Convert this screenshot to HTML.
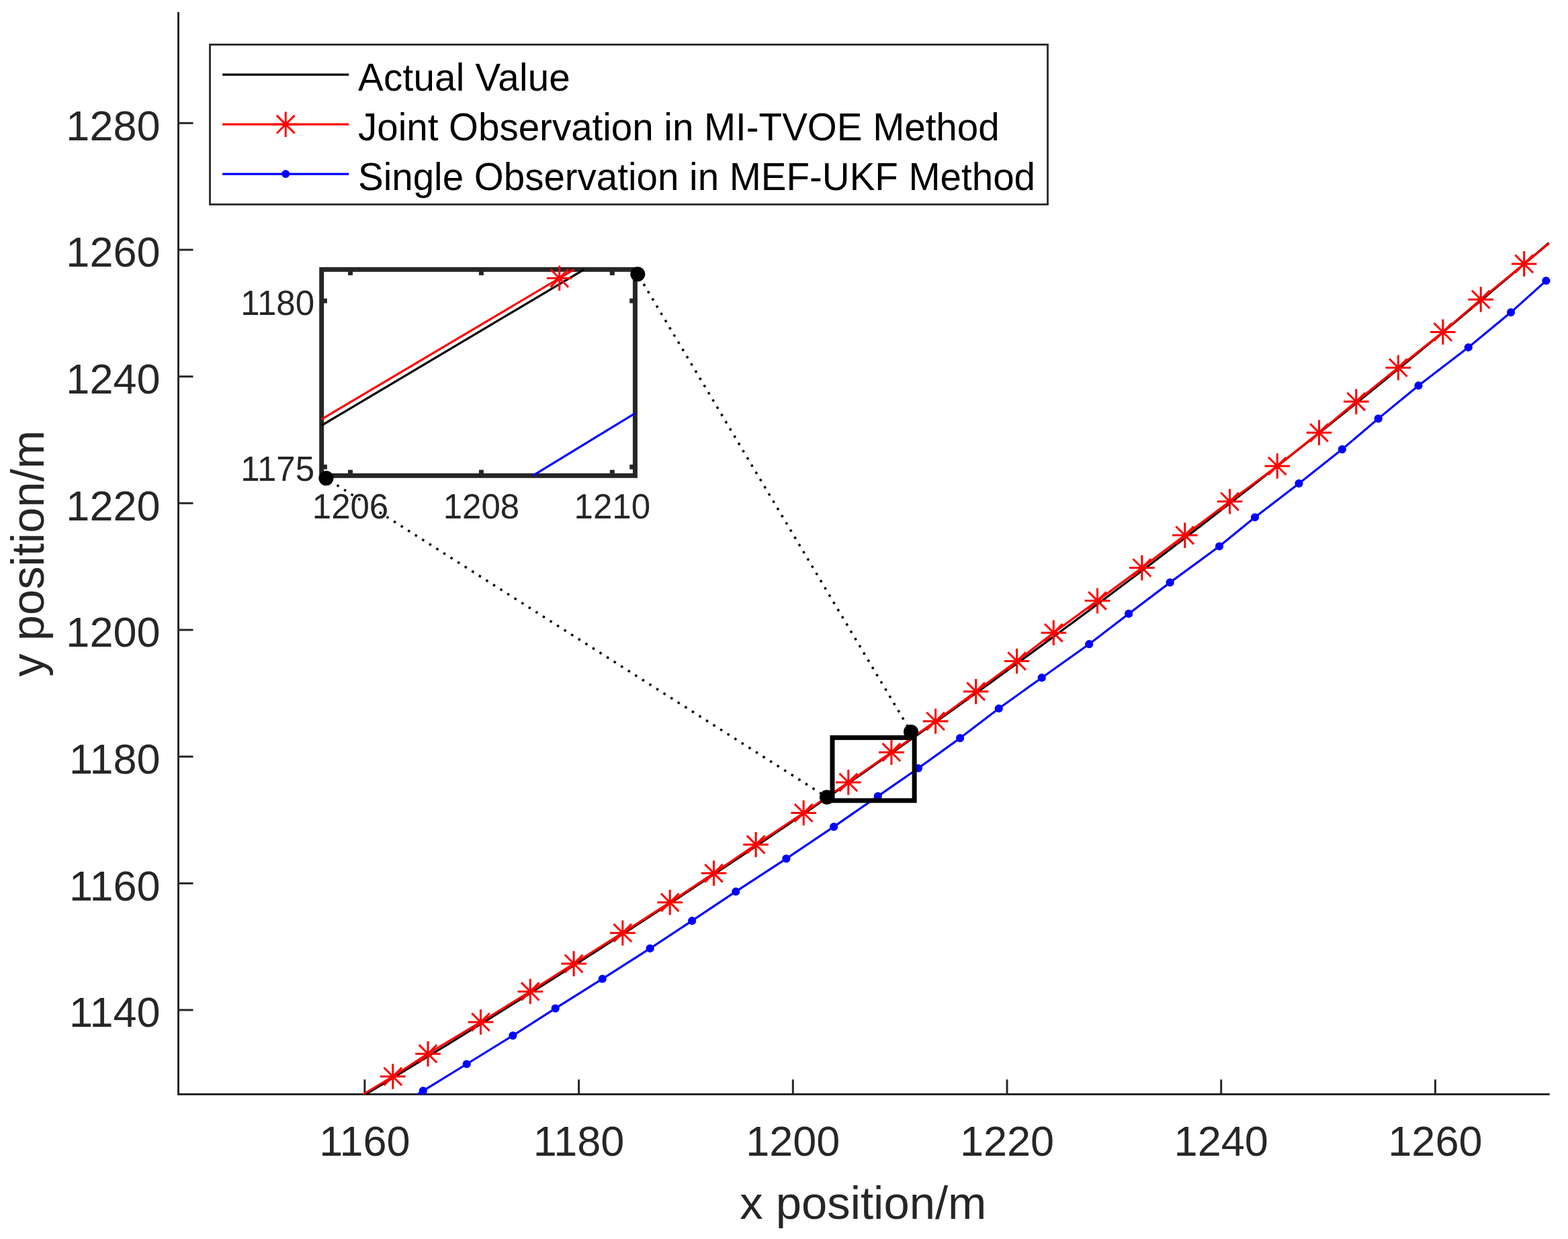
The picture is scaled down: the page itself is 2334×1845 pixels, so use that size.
<!DOCTYPE html><html><head><meta charset="utf-8"><title>plot</title><style>html,body{margin:0;padding:0;background:#fff;}svg{display:block;}text{font-family:"Liberation Sans",Arial,Helvetica,sans-serif;}</style></head><body>
<svg width="2334" height="1845" viewBox="0 0 2334 1845">
<rect width="2334" height="1845" fill="#fff"/>
<defs><clipPath id="cm"><rect x="264.0" y="16.5" width="2044.2" height="1614.5"/></clipPath>
<clipPath id="ci"><rect x="477.7" y="400.3" width="468.7" height="309.0"/></clipPath></defs>
<g stroke="#262626" stroke-width="3" fill="none">
<path d="M265.5 18.0V1631.0"/>
<path d="M264.0 1629.5H2306.7"/>
<path d="M265.5 1504.0H287.5"/>
<path d="M265.5 1315.4H287.5"/>
<path d="M265.5 1126.7H287.5"/>
<path d="M265.5 938.0H287.5"/>
<path d="M265.5 749.3H287.5"/>
<path d="M265.5 560.7H287.5"/>
<path d="M265.5 372.0H287.5"/>
<path d="M265.5 183.3H287.5"/>
<path d="M542.9 1629.5V1607.5"/>
<path d="M861.6 1629.5V1607.5"/>
<path d="M1180.3 1629.5V1607.5"/>
<path d="M1499.0 1629.5V1607.5"/>
<path d="M1817.7 1629.5V1607.5"/>
<path d="M2136.4 1629.5V1607.5"/>
</g>
<g fill="none" stroke-linejoin="round">
<polyline points="544.3,1629.5 549.9,1626.1 569.9,1614.1 589.8,1602.0 609.8,1589.9 629.7,1577.7 649.7,1565.5 669.6,1553.3 689.6,1541.0 709.5,1528.7 729.5,1516.3 749.4,1503.8 769.4,1491.3 789.3,1478.8 809.3,1466.2 829.2,1453.6 849.2,1440.9 869.1,1428.1 889.1,1415.4 909.0,1402.5 929.0,1389.6 948.9,1376.7 968.9,1363.7 988.8,1350.7 1008.8,1337.6 1028.7,1324.4 1048.7,1311.2 1068.6,1298.0 1088.6,1284.7 1108.5,1271.3 1128.5,1257.9 1148.4,1244.4 1168.4,1230.9 1188.3,1217.3 1208.3,1203.7 1228.2,1190.0 1248.2,1176.3 1268.1,1162.5 1288.1,1148.6 1308.0,1134.7 1328.0,1120.8 1347.9,1106.8 1367.9,1092.7 1387.8,1078.5 1407.8,1064.4 1427.7,1050.1 1447.7,1035.8 1467.6,1021.4 1487.6,1007.0 1507.5,992.5 1527.5,978.0 1547.4,963.4 1567.4,948.7 1587.3,934.0 1607.3,919.2 1627.2,904.4 1647.2,889.5 1667.1,874.5 1687.1,859.5 1707.0,844.4 1727.0,829.2 1746.9,814.0 1766.9,798.8 1786.8,783.4 1806.8,768.0 1826.7,752.6 1846.7,737.0 1866.6,721.4 1886.6,705.8 1906.5,690.1 1926.5,674.3 1946.4,658.4 1966.4,642.5 1986.3,626.5 2006.3,610.5 2026.2,594.4 2046.2,578.2 2066.1,562.0 2086.1,545.7 2106.0,529.3 2126.0,512.8 2145.9,496.3 2165.9,479.7 2185.8,463.1 2205.8,446.4 2225.7,429.6 2245.7,412.7 2265.6,395.8 2285.6,378.8 2305.5,361.7" stroke="#000" stroke-width="3.2"/>
<polyline points="540.7,1629.5 584.8,1603.0 637.0,1569.2 715.5,1522.0 789.3,1476.4 854.1,1435.0 926.8,1389.2 997.2,1343.8 1062.5,1300.3 1125.1,1257.7 1196.2,1210.5 1262.8,1165.0 1326.9,1120.2 1392.6,1074.0 1452.7,1029.7 1513.6,984.5 1568.3,942.3 1633.5,894.6 1699.8,845.5 1763.7,797.1 1830.5,746.8 1901.2,694.0 1963.5,644.3 2018.7,598.1 2081.3,547.5 2147.8,494.4 2204.2,445.9 2268.7,392.9 2306.0,362.3" stroke="#ff0000" stroke-width="3.2"/>
<polyline points="621.3,1629.5 629.8,1624.3 694.7,1584.5 763.4,1542.1 826.7,1501.6 896.7,1457.7 967.6,1412.3 1030.1,1371.2 1095.3,1327.7 1170.4,1278.6 1241.1,1231.2 1306.8,1185.6 1366.9,1144.0 1429.1,1099.1 1486.8,1055.0 1550.7,1009.2 1621.1,959.2 1680.1,913.9 1741.6,867.4 1815.0,813.5 1868.0,770.3 1933.5,719.9 1997.8,669.1 2051.6,623.4 2111.4,574.2 2185.7,517.3 2249.0,465.1 2301.4,418.0" stroke="#0000ff" stroke-width="3.2"/>
</g>
<g stroke="#ff0000" stroke-width="3.0" fill="none"><path d="M584.8 1584.2V1621.8M566.0 1603.0H603.6M571.5 1589.7L598.1 1616.3M571.5 1616.3L598.1 1589.7"/><path d="M637.0 1550.4V1588.0M618.2 1569.2H655.8M623.7 1555.9L650.3 1582.5M623.7 1582.5L650.3 1555.9"/><path d="M715.5 1503.2V1540.8M696.7 1522.0H734.3M702.2 1508.7L728.8 1535.3M702.2 1535.3L728.8 1508.7"/><path d="M789.3 1457.6V1495.2M770.5 1476.4H808.1M776.0 1463.1L802.6 1489.7M776.0 1489.7L802.6 1463.1"/><path d="M854.1 1416.2V1453.8M835.3 1435.0H872.9M840.8 1421.7L867.4 1448.3M840.8 1448.3L867.4 1421.7"/><path d="M926.8 1370.4V1408.0M908.0 1389.2H945.6M913.5 1375.9L940.1 1402.5M913.5 1402.5L940.1 1375.9"/><path d="M997.2 1325.0V1362.6M978.4 1343.8H1016.0M983.9 1330.5L1010.5 1357.1M983.9 1357.1L1010.5 1330.5"/><path d="M1062.5 1281.5V1319.1M1043.7 1300.3H1081.3M1049.2 1287.0L1075.8 1313.6M1049.2 1313.6L1075.8 1287.0"/><path d="M1125.1 1238.9V1276.5M1106.3 1257.7H1143.9M1111.8 1244.4L1138.4 1271.0M1111.8 1271.0L1138.4 1244.4"/><path d="M1196.2 1191.7V1229.3M1177.4 1210.5H1215.0M1182.9 1197.2L1209.5 1223.8M1182.9 1223.8L1209.5 1197.2"/><path d="M1262.8 1146.2V1183.8M1244.0 1165.0H1281.6M1249.5 1151.7L1276.1 1178.3M1249.5 1178.3L1276.1 1151.7"/><path d="M1326.9 1101.4V1139.0M1308.1 1120.2H1345.7M1313.6 1106.9L1340.2 1133.5M1313.6 1133.5L1340.2 1106.9"/><path d="M1392.6 1055.2V1092.8M1373.8 1074.0H1411.4M1379.3 1060.7L1405.9 1087.3M1379.3 1087.3L1405.9 1060.7"/><path d="M1452.7 1010.9V1048.5M1433.9 1029.7H1471.5M1439.4 1016.4L1466.0 1043.0M1439.4 1043.0L1466.0 1016.4"/><path d="M1513.6 965.7V1003.3M1494.8 984.5H1532.4M1500.3 971.2L1526.9 997.8M1500.3 997.8L1526.9 971.2"/><path d="M1568.3 923.5V961.1M1549.5 942.3H1587.1M1555.0 929.0L1581.6 955.6M1555.0 955.6L1581.6 929.0"/><path d="M1633.5 875.8V913.4M1614.7 894.6H1652.3M1620.2 881.3L1646.8 907.9M1620.2 907.9L1646.8 881.3"/><path d="M1699.8 826.7V864.3M1681.0 845.5H1718.6M1686.5 832.2L1713.1 858.8M1686.5 858.8L1713.1 832.2"/><path d="M1763.7 778.3V815.9M1744.9 797.1H1782.5M1750.4 783.8L1777.0 810.4M1750.4 810.4L1777.0 783.8"/><path d="M1830.5 728.0V765.6M1811.7 746.8H1849.3M1817.2 733.5L1843.8 760.1M1817.2 760.1L1843.8 733.5"/><path d="M1901.2 675.2V712.8M1882.4 694.0H1920.0M1887.9 680.7L1914.5 707.3M1887.9 707.3L1914.5 680.7"/><path d="M1963.5 625.5V663.1M1944.7 644.3H1982.3M1950.2 631.0L1976.8 657.6M1950.2 657.6L1976.8 631.0"/><path d="M2018.7 579.3V616.9M1999.9 598.1H2037.5M2005.4 584.8L2032.0 611.4M2005.4 611.4L2032.0 584.8"/><path d="M2081.3 528.7V566.3M2062.5 547.5H2100.1M2068.0 534.2L2094.6 560.8M2068.0 560.8L2094.6 534.2"/><path d="M2147.8 475.6V513.2M2129.0 494.4H2166.6M2134.5 481.1L2161.1 507.7M2134.5 507.7L2161.1 481.1"/><path d="M2204.2 427.1V464.7M2185.4 445.9H2223.0M2190.9 432.6L2217.5 459.2M2190.9 459.2L2217.5 432.6"/><path d="M2268.7 374.1V411.7M2249.9 392.9H2287.5M2255.4 379.6L2282.0 406.2M2255.4 406.2L2282.0 379.6"/></g>
<g fill="#0000ff" stroke="none"><circle cx="629.8" cy="1624.3" r="6.1"/><circle cx="694.7" cy="1584.5" r="6.1"/><circle cx="763.4" cy="1542.1" r="6.1"/><circle cx="826.7" cy="1501.6" r="6.1"/><circle cx="896.7" cy="1457.7" r="6.1"/><circle cx="967.6" cy="1412.3" r="6.1"/><circle cx="1030.1" cy="1371.2" r="6.1"/><circle cx="1095.3" cy="1327.7" r="6.1"/><circle cx="1170.4" cy="1278.6" r="6.1"/><circle cx="1241.1" cy="1231.2" r="6.1"/><circle cx="1306.8" cy="1185.6" r="6.1"/><circle cx="1366.9" cy="1144.0" r="6.1"/><circle cx="1429.1" cy="1099.1" r="6.1"/><circle cx="1486.8" cy="1055.0" r="6.1"/><circle cx="1550.7" cy="1009.2" r="6.1"/><circle cx="1621.1" cy="959.2" r="6.1"/><circle cx="1680.1" cy="913.9" r="6.1"/><circle cx="1741.6" cy="867.4" r="6.1"/><circle cx="1815.0" cy="813.5" r="6.1"/><circle cx="1868.0" cy="770.3" r="6.1"/><circle cx="1933.5" cy="719.9" r="6.1"/><circle cx="1997.8" cy="669.1" r="6.1"/><circle cx="2051.6" cy="623.4" r="6.1"/><circle cx="2111.4" cy="574.2" r="6.1"/><circle cx="2185.7" cy="517.3" r="6.1"/><circle cx="2249.0" cy="465.1" r="6.1"/><circle cx="2301.4" cy="418.0" r="6.1"/></g>
<g fill="#262626" font-size="63">
<text x="238.5" y="1529.4" text-anchor="end">1140</text>
<text x="238.5" y="1340.8" text-anchor="end">1160</text>
<text x="238.5" y="1152.1" text-anchor="end">1180</text>
<text x="238.5" y="963.4" text-anchor="end">1200</text>
<text x="238.5" y="774.7" text-anchor="end">1220</text>
<text x="238.5" y="586.1" text-anchor="end">1240</text>
<text x="238.5" y="397.4" text-anchor="end">1260</text>
<text x="238.5" y="208.7" text-anchor="end">1280</text>
<text x="542.9" y="1720.8" text-anchor="middle">1160</text>
<text x="861.6" y="1720.8" text-anchor="middle">1180</text>
<text x="1180.3" y="1720.8" text-anchor="middle">1200</text>
<text x="1499.0" y="1720.8" text-anchor="middle">1220</text>
<text x="1817.7" y="1720.8" text-anchor="middle">1240</text>
<text x="2136.4" y="1720.8" text-anchor="middle">1260</text>
</g>
<text x="1284.8" y="1815" text-anchor="middle" font-size="68.8" fill="#262626">x position/m</text>
<text transform="translate(65 824.3) rotate(-90)" x="0" y="0" text-anchor="middle" font-size="68.8" fill="#262626">y position/m</text>
<rect x="1239" y="1098.4" width="122.1" height="93.7" fill="none" stroke="#000" stroke-width="7"/>
<g stroke="#000" stroke-width="3.5" stroke-dasharray="3.5 9.03" fill="none">
<path d="M485.4 712.1L1230.8 1187.1" stroke-dashoffset="5.91"/>
<path d="M949.3 408.2L1356.05 1089.9" stroke-dashoffset="8.07"/>
</g>
<rect x="478.7" y="401.3" width="466.7" height="307.0" fill="#fff"/>
<rect x="478.7" y="401.3" width="466.7" height="307.0" fill="none" stroke="#262626" stroke-width="7"/>
<g fill="#262626">
<rect x="518.0" y="401.3" width="7" height="8.6"/>
<rect x="518.0" y="699.7" width="7" height="8.6"/>
<rect x="712.9" y="401.3" width="7" height="8.6"/>
<rect x="712.9" y="699.7" width="7" height="8.6"/>
<rect x="907.8" y="401.3" width="7" height="8.6"/>
<rect x="907.8" y="699.7" width="7" height="8.6"/>
<rect x="478.7" y="691.8" width="8.2" height="7"/>
<rect x="937.2" y="691.8" width="8.2" height="7"/>
<rect x="478.7" y="444.5" width="8.2" height="7"/>
<rect x="937.2" y="444.5" width="8.2" height="7"/>
</g>
<g fill="none" stroke-linejoin="round">
<polyline points="478.7,633.5 869.3,401.3" stroke="#000" stroke-width="3.2"/>
<polyline points="478.7,624.3 832.7,414.3 854.3,401.3" stroke="#ff0000" stroke-width="3.2"/>
<polyline points="793.0,708.3 945.4,615.3" stroke="#0000ff" stroke-width="3.2"/>
</g>
<g stroke="#ff0000" stroke-width="3.0" fill="none"><path d="M832.7 395.5V433.1M813.9 414.3H851.5M819.4 401.0L846.0 427.6M819.4 427.6L846.0 401.0"/></g>
<g fill="#0000ff" stroke="none"></g>
<g fill="#262626" font-size="51">
<text x="468" y="716.1" text-anchor="end">1175</text>
<text x="468" y="468.8" text-anchor="end">1180</text>
<text x="521.5" y="772" text-anchor="middle">1206</text>
<text x="716.4" y="772" text-anchor="middle">1208</text>
<text x="911.3" y="772" text-anchor="middle">1210</text>
</g>
<g fill="#000">
<circle cx="485.4" cy="712.1" r="11.0"/>
<circle cx="949.3" cy="408.2" r="11.0"/>
<circle cx="1230.8" cy="1187.1" r="10.9"/>
<circle cx="1356.0" cy="1089.9" r="11.0"/>
</g>
<rect x="312.5" y="66.4" width="1247" height="238" fill="#fff" stroke="#262626" stroke-width="2.8"/>
<g fill="none" stroke-width="3.2">
<path d="M331.1 111.1H519.3" stroke="#000"/>
<path d="M331.1 185.2H519.3" stroke="#ff0000"/>
<path d="M331.1 259.1H519.3" stroke="#0000ff"/>
</g>
<g stroke="#ff0000" stroke-width="3.0" fill="none"><path d="M425.2 166.4V204.0M406.4 185.2H444.0M411.9 171.9L438.5 198.5M411.9 198.5L438.5 171.9"/></g>
<circle cx="425.2" cy="259.1" r="6" fill="#0000ff"/>
<g fill="#000" font-size="56.5">
<text x="533" y="134.7" letter-spacing="0.25">Actual Value</text>
<text x="533" y="209.2">Joint Observation in MI-TVOE Method</text>
<text x="533" y="282.8">Single Observation in MEF-UKF Method</text>
</g>
</svg></body></html>
